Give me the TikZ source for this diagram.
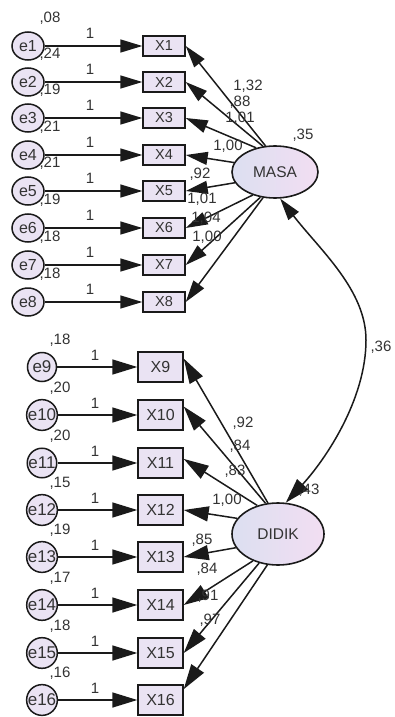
\documentclass[tikz,border=0pt]{standalone}
\usepackage{fontspec}
\setmainfont{Liberation Sans}
\usetikzlibrary{arrows.meta,shapes.geometric}

\definecolor{lav}{HTML}{EAE3F3}
\definecolor{lavL}{HTML}{DCDFF1}
\definecolor{lavR}{HTML}{F2DEF2}
\definecolor{ink}{HTML}{1A1A1A}
\definecolor{txt}{HTML}{333333}

\tikzset{
  tipA/.tip={Triangle[length=22pt,width=13pt]},
  tipB/.tip={Triangle[length=25pt,width=15pt]},
  errA/.style={ellipse, draw=ink, line width=1.5pt, fill=lav,
    minimum width=32pt, minimum height=28pt, inner sep=0pt,
    font=\fontsize{16}{16}\selectfont, text=txt},
  errB/.style={circle, draw=ink, line width=1.5pt, fill=lav,
    minimum size=29pt, inner sep=0pt,
    font=\fontsize{17}{17}\selectfont, text=txt},
  obsA/.style={rectangle, draw=ink, line width=1.4pt, fill=lav,
    minimum width=42pt, minimum height=20pt, inner sep=0pt,
    font=\fontsize{14.5}{14.5}\selectfont, text=txt},
  obsB/.style={rectangle, draw=ink, line width=1.4pt, fill=lav,
    minimum width=45pt, minimum height=30pt, inner sep=0pt,
    font=\fontsize{16}{16}\selectfont, text=txt},
  latent/.style={ellipse, draw=ink, line width=1.6pt,
    left color=lavL, right color=lavR, inner sep=0pt,
    font=\fontsize{15.5}{15.5}\selectfont, text=txt},
  regA/.style={draw=ink, line width=1.5pt, -tipA},
  regB/.style={draw=ink, line width=1.5pt, -tipB},
  lbl/.style={font=\fontsize{15}{15}\selectfont, text=txt, inner sep=0pt},
}

\begin{document}
\begin{tikzpicture}[x=1pt,y=-1pt]
\useasboundingbox (0,0) rectangle (394,717);

% latent factors
\node[latent, minimum width=86pt, minimum height=52pt] (masa) at (275,172) {MASA};
\node[latent, minimum width=92pt, minimum height=62pt] (didik) at (278,534) {DIDIK};

% first block: e1..e8 -> X1..X8
\foreach \i/\y/\v in {1/46/08, 2/82/24, 3/118/19, 4/155/21,
                      5/191/21, 6/228/19, 7/265/18, 8/302/18} {
  \node[errA] (e\i) at (28,\y) {e\i};
  \node[obsA] (x\i) at (164,\y) {X\i};
  \draw[regA] (e\i) -- (x\i);
  \node[lbl] (v\i) at (50,\y-28) {,\v};
  \node[lbl] (w\i) at (90,\y-13) {1};
}

% second block: e9..e16 -> X9..X16
\foreach \i/\y/\v in {9/367/18, 10/415/20, 11/463/20, 12/510/15,
                      13/557/19, 14/605/17, 15/653/18, 16/700/16} {
  \node[errB] (e\i) at (42,\y) {e\i};
  \node[obsB] (x\i) at (160.5,\y) {X\i};
  \draw[regB] (e\i) -- (x\i);
  \node[lbl] (v\i) at (60,\y-27) {,\v};
  \node[lbl] (w\i) at (95,\y-12) {1};
}

% loadings of MASA
\draw[regA] (masa.110) -- (x1.east);
\draw[regA] (masa.115) -- (x2.east);
\draw[regA] (masa.128) -- (x3.east);
\draw[regA] (masa.167) -- (x4.east);
\draw[regA] (masa.195) -- (x5.east);
\draw[regA] (masa.226) -- (x6.east);
\draw[regA] (masa.240) -- (x7.east);
\draw[regA] (masa.245) -- (x8.east);

% loadings of DIDIK
\draw[regB] (didik.108) -- (x9.20);
\draw[regB] (didik.112) -- (x10.20);
\draw[regB] (didik.126) -- (x11.10);
\draw[regB] (didik.159) -- (x12.east);
\draw[regB] (didik.198) -- (x13.east);
\draw[regB] (didik.227) -- (x14.east);
\draw[regB] (didik.237) -- (x15.east);
\draw[regB] (didik.251) -- (x16.25);

% covariance between the factors
\coordinate (bend) at (366,340);
\draw[draw=ink, line width=1.5pt, tipA-tipB]
  (masa.281) .. controls (320,250) and (366,290) .. (bend)
  .. controls (366,400) and (325,460) .. (didik.76);

% estimates
\node[lbl] (m0) at (303,135) {,35};
\node[lbl] (m1) at (248,86) {1,32};
\node[lbl] (m2) at (240,102) {,88};
\node[lbl] (m3) at (240,118) {1,01};
\node[lbl] (m4) at (228,146) {1,00};
\node[lbl] (m5) at (200,174) {,92};
\node[lbl] (m6) at (202,199) {1,01};
\node[lbl] (m7) at (206,218) {1,04};
\node[lbl] (m8) at (207,237) {1,00};

\node[lbl] (d0) at (309,490) {,43};
\node[lbl] (d1) at (243,423) {,92};
\node[lbl] (d2) at (240,446) {,84};
\node[lbl] (d3) at (235,471) {,83};
\node[lbl] (d4) at (227,500) {1,00};
\node[lbl] (d5) at (202,540) {,85};
\node[lbl] (d6) at (207,569) {,84};
\node[lbl] (d7) at (208,596) {,91};
\node[lbl] (d8) at (210,620) {,97};

\node[lbl] (cv) at (381,347) {,36};
\end{tikzpicture}
\end{document}
